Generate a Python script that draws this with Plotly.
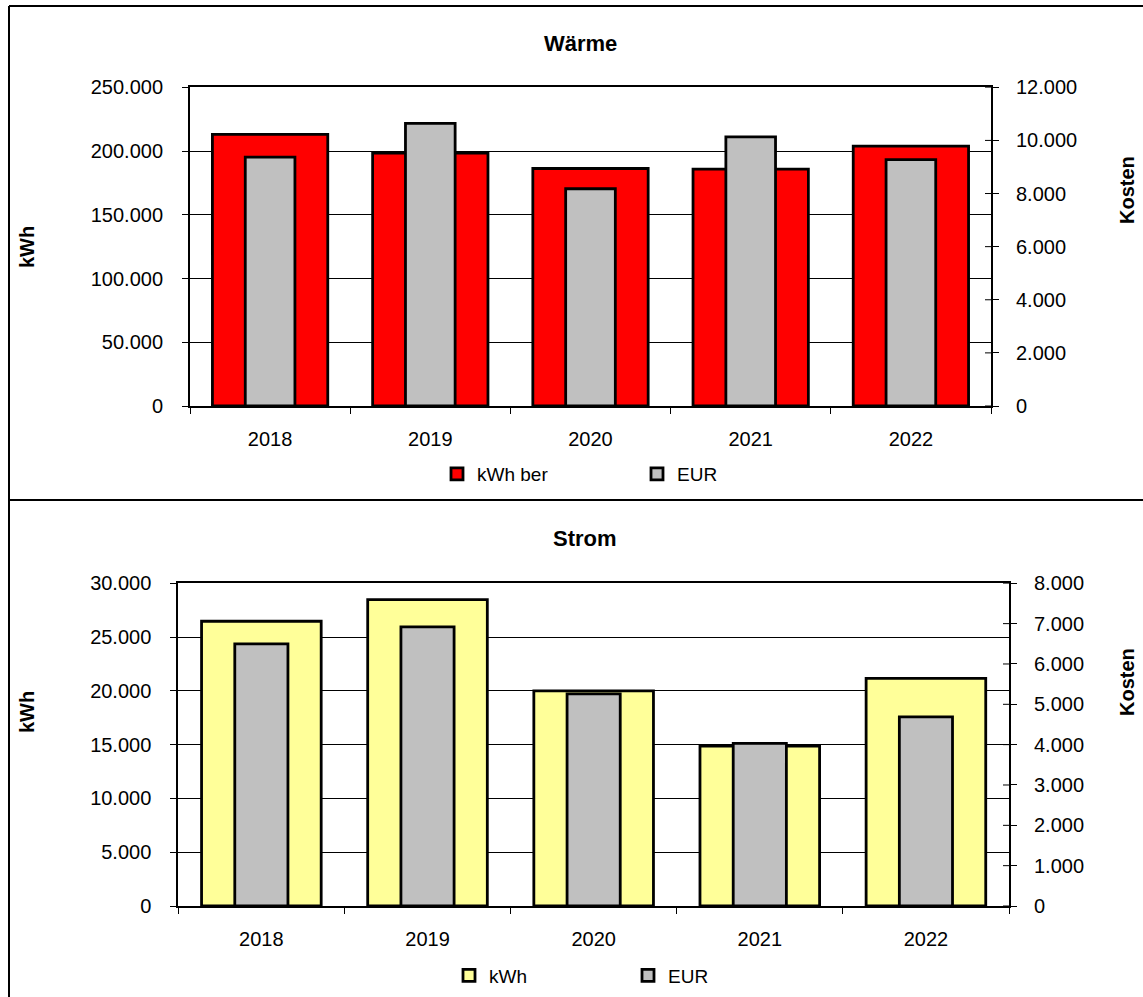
import plotly.graph_objects as go

W, H = 1143, 997

years = ["2018", "2019", "2020", "2021", "2022"]
waerme_kwh = [213000, 198300, 186300, 185800, 203800]
waerme_eur = [9370, 10640, 8180, 10130, 9280]
strom_kwh = [26470, 28480, 19990, 14870, 21170]
strom_eur = [6500, 6920, 5260, 4030, 4690]

left_ticks_top = [0, 50000, 100000, 150000, 200000, 250000]
right_ticks_top = [0, 2000, 4000, 6000, 8000, 10000, 12000]
left_ticks_bot = [0, 5000, 10000, 15000, 20000, 25000, 30000]
right_ticks_bot = [0, 1000, 2000, 3000, 4000, 5000, 6000, 7000, 8000]

FONT = "Liberation Sans, Arial, sans-serif"

def px(x):
    return x / W

def py(y):
    return 1 - y / H

fig = go.Figure()

OUT = dict(color="black", width=2.8)
fig.add_trace(go.Bar(x=years, y=waerme_kwh, name="kWh ber", xaxis="x", yaxis="y",
                     width=0.72, offset=-0.36,
                     marker=dict(color="#FF0000", line=OUT), legend="legend"))
fig.add_trace(go.Bar(x=years, y=waerme_eur, name="EUR", xaxis="x", yaxis="y2",
                     width=0.31, offset=-0.155,
                     marker=dict(color="#C0C0C0", line=OUT), legend="legend"))
fig.add_trace(go.Bar(x=years, y=strom_kwh, name="kWh", xaxis="x2", yaxis="y3",
                     width=0.72, offset=-0.36,
                     marker=dict(color="#FFFF99", line=OUT), legend="legend2"))
fig.add_trace(go.Bar(x=years, y=strom_eur, name="EUR", xaxis="x2", yaxis="y4",
                     width=0.32, offset=-0.16,
                     marker=dict(color="#C0C0C0", line=OUT), legend="legend2"))

tickfont = dict(family=FONT, size=20, color="black")

TOP_L, TOP_R, TOP_T, TOP_B = 190, 991, 87.3, 406
BOT_L, BOT_R, BOT_T, BOT_B = 178.3, 1009, 583.3, 906

top_x = [px(TOP_L), px(TOP_R)]
top_y = [py(TOP_B), py(TOP_T)]
bot_x = [px(BOT_L), px(BOT_R)]
bot_y = [py(BOT_B), py(BOT_T)]

def xaxis(domain, anchor):
    return dict(domain=domain, anchor=anchor, type="category", automargin=False,
                showline=True, linecolor="black", linewidth=2, mirror=True,
                ticks="outside", ticklen=6, tickcolor="black", tickwidth=1,
                tickson="boundaries", showgrid=False, tickfont=tickfont,
                ticklabelstandoff=14, fixedrange=True)

def yleft(domain, anchor, rng, tv):
    return dict(domain=domain, anchor=anchor, range=rng, tickvals=tv, automargin=False,
                tickformat=",d", showline=True, linecolor="black", linewidth=2,
                ticks="outside", ticklen=6, tickcolor="black", tickwidth=1,
                showgrid=True, gridcolor="black", gridwidth=1, zeroline=False,
                tickfont=tickfont, ticklabelstandoff=15, fixedrange=True)

def yright(overlay, anchor, rng, tv):
    return dict(overlaying=overlay, anchor=anchor, side="right", range=rng, tickvals=tv,
                automargin=False,
                tickformat=",d", showline=True, linecolor="black", linewidth=2,
                ticks="outside", ticklen=6, tickcolor="black", tickwidth=1,
                showgrid=False, zeroline=False, fixedrange=True,
                tickfont=tickfont, ticklabelstandoff=13)

fig.update_layout(
    width=W, height=H,
    margin=dict(l=0, r=0, t=0, b=0, autoexpand=False),
    paper_bgcolor="white", plot_bgcolor="white",
    separators=",.",
    barmode="overlay",
    hovermode=False,
    font=dict(family=FONT, size=20, color="black"),
    xaxis=xaxis(top_x, "y"),
    yaxis=yleft(top_y, "x", [0, 250000], left_ticks_top),
    yaxis2=yright("y", "x", [0, 12000], right_ticks_top),
    xaxis2=xaxis(bot_x, "y3"),
    yaxis3=yleft(bot_y, "x2", [0, 30000], left_ticks_bot),
    yaxis4=yright("y3", "x2", [0, 8000], right_ticks_bot),
    legend=dict(orientation="h", x=px(437), xanchor="left", y=py(474), yanchor="middle",
                entrywidth=155, entrywidthmode="pixels", font=dict(family=FONT, size=19),
                bgcolor="rgba(0,0,0,0)", traceorder="normal", itemclick=False),
    legend2=dict(orientation="h", x=px(449), xanchor="left", y=py(975.5), yanchor="middle",
                 entrywidth=134, entrywidthmode="pixels", font=dict(family=FONT, size=19),
                 bgcolor="rgba(0,0,0,0)", traceorder="normal", itemclick=False),
    showlegend=True,
)

ann = []
ann.append(dict(text="<b>Wärme</b>", x=px(580), y=py(44), xref="paper", yref="paper",
                xanchor="center", yanchor="middle",
                showarrow=False, font=dict(family=FONT, size=22)))
ann.append(dict(text="<b>Strom</b>", x=px(585), y=py(538), xref="paper", yref="paper",
                xanchor="center", yanchor="middle",
                showarrow=False, font=dict(family=FONT, size=22)))
for (x, y, t) in [(27, 247, "kWh"), (1127, 190, "Kosten"), (27, 712, "kWh"), (1127, 682, "Kosten")]:
    ann.append(dict(text="<b>%s</b>" % t, x=px(x), y=py(y), xref="paper", yref="paper",
                    xanchor="center", yanchor="middle",
                    textangle=-90, showarrow=False, font=dict(family=FONT, size=20)))
fig.update_layout(annotations=ann)

shapes = [
    dict(type="line", xref="paper", yref="paper", x0=px(9), x1=1, y0=py(6), y1=py(6),
         line=dict(color="black", width=2)),
    dict(type="line", xref="paper", yref="paper", x0=px(9), x1=px(9), y0=py(6), y1=0,
         line=dict(color="black", width=2)),
    dict(type="line", xref="paper", yref="paper", x0=px(9), x1=1, y0=py(500), y1=py(500),
         line=dict(color="black", width=2)),
]
# inner half of the crossing tick marks on the right-hand axes
for tv, yr, xr, wpx in [(right_ticks_top, "y2", "x domain", TOP_R - TOP_L),
                        (right_ticks_bot, "y4", "x2 domain", BOT_R - BOT_L)]:
    for v in tv:
        shapes.append(dict(type="line", xref=xr, yref=yr, x0=1 - 6 / wpx, x1=1, y0=v, y1=v,
                           line=dict(color="black", width=1)))
fig.update_layout(shapes=shapes)

fig.write_html("out.html", config={"displayModeBar": False, "staticPlot": False},
               post_script="document.body.style.margin='0';")
